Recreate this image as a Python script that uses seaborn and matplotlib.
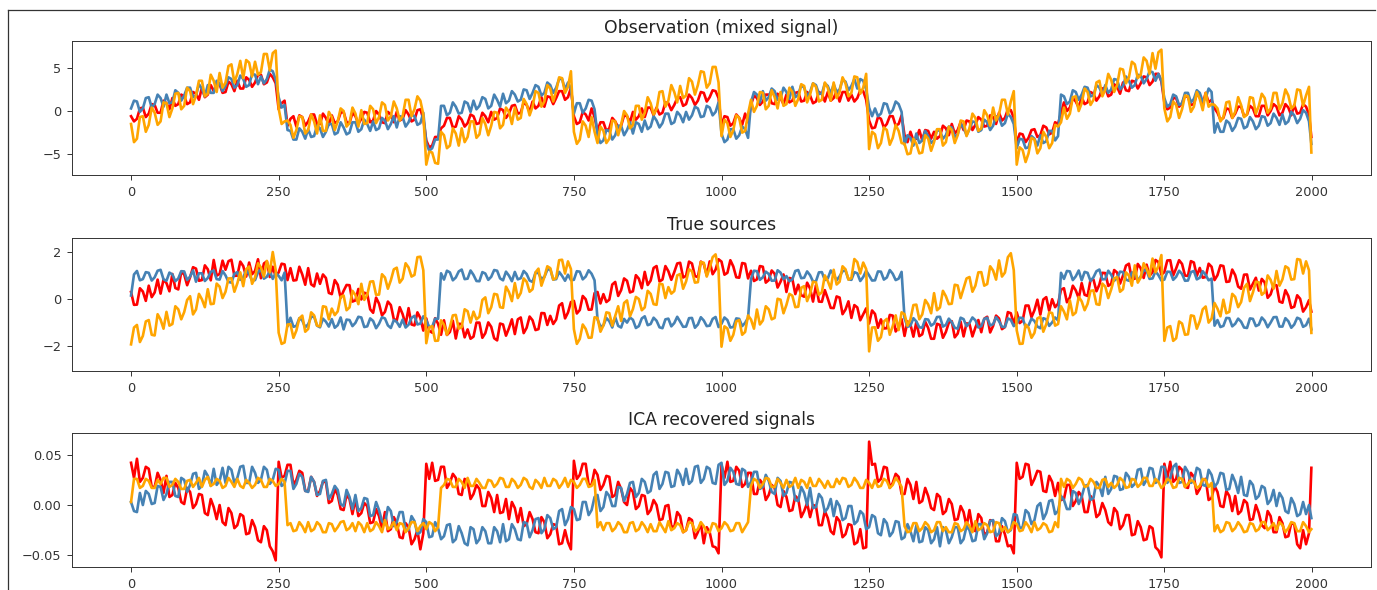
import numpy as np
import matplotlib
matplotlib.use("Agg")
import matplotlib.pyplot as plt
from matplotlib.lines import Line2D
import seaborn as sns

# sample index of every plotted point (every 5th sample plus the last one)
sample_idx = np.append(np.arange(0, 2000, 5), 1999)

panel_titles = ["Observation (mixed signal)", "True sources", "ICA recovered signals"]
line_colors = ["red", "steelblue", "orange"]
x_ticks = [0, 250, 500, 750, 1000, 1250, 1500, 1750, 2000]

# ---- Observation (mixed signal) ----
obs_red = [
    -0.6,-1.2, -0.9,0.3, 0.4,-0.7, -0.3,0.8, 0.7,-0.2, -0.2,1.2, 0.9,0.2, 1.5,0.6, 0.8,1.9, 1.7,0.8, 1.0,2.2, 2.0,1.3, 2.7,1.6, 1.9,3.0, 2.3,3.0, 3.1,2.1, 2.2,3.4, 3.1,2.3, 3.5,2.6, 2.6,3.9, 3.6,2.8, 3.3,4.2, 4.2,3.1, 3.3,4.3, 3.9,3.2,
    0.2,0.9, 1.2,-1.7, -0.9,-0.6, -1.8,-0.5, -0.7,-1.7, -1.2,-0.4, -0.4,-1.5, -1.5,-0.3, -0.8,-1.6, -0.5,-1.4, -1.2,-0.2, -0.1,-1.3, -1.4,-0.2, -0.6,-1.5, -0.9,-0.1, -0.2,-1.3, -1.1,0.0, -0.4,-1.3, -1.4,-0.1, -0.4,-1.3, -0.1,-1.1, -0.9,0.1, -0.4,-1.2, -1.0,0.1, 0.2,-0.9,
    -3.4,-4.2, -4.0,-3.0, -3.0,-2.0, -1.7,-0.8, -0.8,-1.9, -1.8,-0.6, -1.0,-1.8, -1.4,-0.4, -0.6,-1.5, -1.4,-0.2, -0.6,-1.3, -0.1,-1.0, -0.8,0.3, 0.1,-0.8, -0.3,0.6, 0.7,-0.3, -0.2,1.0, 0.7,-0.1, 1.1,0.3, 0.6,1.6, 0.5,1.7, 1.6,0.8, 1.5,2.3, 2.3,1.3, 1.6,2.7,
    -0.6,-1.5, -1.3,-0.1, -0.4,-1.1, 0.3,-0.7, -2.3,-1.3, -1.3,-2.3, -2.0,-0.8, -1.2,-1.9, -1.7,-0.5, -0.6,-1.3, -0.1,-1.0, -0.6,0.3, -0.7,0.4, 0.4,-0.5, 0.4,-0.4, -0.2,1.0, 0.9,0.1, 0.7,1.5, 1.6,0.6, 0.8,1.9, 1.5,0.7, 1.2,2.2, 2.1,1.1, 1.6,2.4, 2.3,1.5,
    -1.7,-0.6, -0.7,-1.7, -1.4,-0.4, -0.8,-1.6, -0.3,-1.3, 0.7,1.8, 1.5,0.7, 1.1,1.9, 1.9,0.9, 0.8,2.0, 1.5,0.8, 1.9,1.0, 1.2,2.1, 2.2,1.1, 1.2,2.2, 1.8,0.9, 1.1,2.2, 2.0,1.1, 2.2,1.2, 1.5,2.3, 1.1,2.2, 2.2,1.2, 1.9,1.1, 1.5,2.4, 2.3,1.3,
    -1.1,-2.0, -1.9,-0.7, -0.9,-1.9, -1.5,-0.6, -0.6,-1.7, -1.5,-0.5, -2.8,-3.6, -2.4,-3.4, -3.2,-2.2, -3.4,-2.2, -2.3,-3.2, -2.4,-3.2, -2.9,-1.7, -2.0,-2.8, -1.5,-2.6, -2.2,-1.3, -2.2,-1.1, -1.2,-2.2, -1.6,-0.7, -1.0,-1.8, -1.7,-0.5, -0.7,-1.5, -0.2,-1.1, -0.8,0.2, 0.1,-0.8,
    -3.8,-2.6, -2.7,-3.6, -3.1,-2.2, -2.1,-3.0, -2.8,-1.7, -1.9,-2.7, -2.5,-1.3, -1.5,-0.2, 1.0,0.0, 0.4,1.5, 1.1,0.4, 1.6,0.8, 1.0,2.2, 2.0,1.2, 1.7,2.6, 2.7,1.7, 1.9,3.1, 2.8,2.0, 3.3,2.4, 2.3,3.5, 3.4,2.6, 3.2,4.0, 3.9,3.0, 3.4,4.3, 4.3,3.4,
    1.0,0.2, 0.4,1.5, 1.5,0.5, 0.9,1.8, 1.6,0.7, 0.8,2.0, 1.6,0.8, 2.1,1.0, 1.3,0.3, -0.2,-1.0, -0.8,0.3, 0.2,-0.8, -0.3,0.5, 0.5,-0.6, -0.4,0.6, 0.3,-0.6, -0.6,0.6, 0.6,-0.5, 0.0,0.8, 0.5,-0.5, -0.2,0.8, 0.4,-0.5, 0.7,-0.3, -0.2,0.8, 0.5,-0.4, -3.0,
]
obs_blue = [
    0.3,1.2, 1.1,-0.1, 0.3,1.5, 1.6,0.4, 0.8,1.9, 1.5,0.5, 1.9,0.9, 1.0,2.4, 2.1,1.2, 1.8,2.7, 2.7,1.6, 1.8,3.1, 2.6,1.7, 3.0,2.1, 2.1,3.5, 3.2,2.3, 2.9,3.9, 3.7,2.7, 3.0,4.1, 3.7,2.8, 3.0,4.3, 4.2,3.1, 4.0,3.2, 3.7,4.8, 4.6,3.6,
    1.6,0.4, 0.7,-2.2, -2.3,-3.3, -3.3,-2.0, -2.4,-3.2, -2.1,-3.0, -2.9,-1.7, -2.0,-3.0, -2.4,-1.5, -1.5,-2.7, -2.5,-1.3, -1.9,-2.7, -2.5,-1.3, -1.3,-2.4, -2.1,-1.0, -1.5,-2.3, -1.2,-2.2, -2.0,-0.8, -1.1,-2.1, -1.5,-0.6, -1.9,-0.6, -0.7,-1.8, -1.3,-0.4, -0.6,-1.6, -1.4,-0.2,
    -3.7,-4.6, -4.3,-3.3, -3.3,0.6, 0.6,-0.5, -0.2,1.0, 0.5,-0.3, -0.2,1.1, 0.9,-0.1, 1.2,0.2, 0.6,1.6, 1.4,0.3, 0.6,1.9, 1.3,0.5, 2.0,0.9, 1.2,2.3, 1.9,1.1, 1.3,2.5, 2.4,1.4, 2.1,3.0, 2.8,1.8, 2.1,3.3, 3.0,2.1, 2.7,3.7, 3.7,2.5, 3.3,2.6,
    -0.3,0.9, 0.9,-0.2, 0.3,1.3, 1.2,0.2, -2.8,-3.7, -3.4,-2.2, -2.3,-3.3, -2.8,-1.7, -1.7,-2.8, -2.2,-1.3, -2.6,-1.3, -1.5,-2.4, -1.1,-2.1, -1.8,-0.6, -1.1,-1.9, -1.4,-0.3, -0.3,-1.5, -1.3,-0.1, -0.5,-1.3, -0.1,-1.0, -0.5,0.5, 0.3,-0.7, -0.6,0.6, 0.4,-0.5, -0.1,1.0,
    -2.6,-3.6, -3.3,-2.1, -2.1,-3.2, -2.8,-1.8, -2.1,-3.1, 1.0,2.2, 1.9,1.0, 2.3,1.2, 1.6,2.6, 2.3,1.3, 1.5,2.7, 2.2,1.4, 2.8,1.6, 1.9,3.0, 2.7,1.7, 2.2,3.2, 3.0,2.0, 2.0,3.2, 2.9,2.0, 3.1,2.2, 2.5,3.6, 3.4,2.4, 2.9,3.7, 2.6,3.7, 3.5,2.5,
    0.4,-0.6, 0.3,-0.6, -0.3,0.9, 0.8,-0.3, 0.1,1.1, 0.8,-0.1, -3.9,-2.8, -3.1,-4.0, -2.6,-3.7, -3.4,-2.3, -2.9,-3.7, -3.4,-2.2, -2.3,-3.2, -2.8,-1.8, -1.9,-3.0, -2.7,-1.5, -1.9,-2.8, -2.1,-1.2, -1.3,-2.4, -2.2,-1.0, -1.3,-2.2, -1.7,-0.6, -0.7,-1.7, -1.4,-0.3, -0.7,-1.5,
    -4.3,-3.2, -3.3,-4.3, -4.2,-2.9, -3.2,-4.0, -2.8,-3.7, -3.5,-2.3, -2.3,-3.4, -2.9,1.9, 1.7,0.8, 1.1,2.4, 2.2,1.3, 1.9,2.8, 2.7,1.7, 1.8,3.0, 2.7,1.9, 3.0,2.1, 2.5,3.7, 3.6,2.5, 2.9,4.0, 3.5,2.7, 3.0,4.2, 4.1,3.2, 3.7,4.6, 4.5,3.5, 4.3,3.5,
    1.5,0.5, 0.8,1.9, 1.7,0.7, 0.9,2.1, 2.1,1.0, 1.4,2.4, 2.1,1.1, 1.5,2.6, 2.2,-2.5, -1.4,-2.4, -2.4,-1.1, -1.4,-2.3, -1.8,-0.8, -0.9,-2.0, -1.8,-0.7, -1.2,-2.1, -1.7,-0.6, -0.7,-1.7, -1.4,-0.3, -0.8,-1.6, -0.4,-1.5, -1.2,-0.1, -0.5,-1.4, -0.9,0.1, -0.2,-1.2, -3.8,
]
obs_orange = [
    -1.5,-3.6, -3.2,-0.7, -0.6,-2.4, -1.6,0.4, -0.2,-1.6, -1.2,1.0, 0.9,-0.7, 0.3,2.0, 2.1,0.2, 0.6,2.7, 2.3,0.8, 1.8,3.5, 3.5,1.7, 2.0,4.2, 3.5,2.2, 4.4,2.7, 3.3,5.2, 5.4,3.3, 4.3,5.8, 3.8,5.9, 5.6,4.0, 5.7,4.2, 4.5,6.6, 6.6,4.7, 6.7,7.0,
    0.3,-1.5, -1.2,-1.1, -1.6,-3.1, -2.2,-0.6, -0.7,-2.6, -2.2,-0.4, -1.2,-2.6, -0.5,-2.3, -2.3,-0.1, -0.7,-2.2, -1.2,0.3, 0.0,-1.8, -1.4,0.4, -0.3,-1.8, 0.1,-1.5, -1.4,0.6, 0.2,-1.4, -0.7,1.0, 0.7,-1.1, -0.6,1.1, 0.3,-1.1, -0.6,1.3, 1.3,-0.6, 0.2,1.7, 1.2,-0.4,
    -6.2,-4.7, -4.8,-6.0, -6.1,-2.4, -2.8,-4.3, -4.0,-2.0, -2.6,-4.0, -2.0,-3.6, -3.0,-1.2, -1.2,-3.1, -2.7,-0.8, -1.5,-2.8, -1.7,-0.1, -0.2,-2.0, -1.6,0.4, -0.1,-1.5, 0.4,-1.0, -0.8,1.4, 0.8,-0.5, 0.5,2.3, 2.1,0.5, 1.1,3.0, 2.6,1.1, 2.3,3.9, 3.8,2.1, 2.8,4.6,
    -2.4,-3.8, -3.3,-1.2, -1.7,-3.0, -0.7,-2.4, -3.7,-1.8, -2.3,-3.7, -3.2,-1.1, -1.2,-2.8, -1.6,0.0, -0.5,-2.0, -1.6,0.6, 0.6,-1.0, -0.2,1.6, 0.9,-0.4, 0.2,2.2, 2.3,0.5, 1.2,3.0, 2.2,1.0, 2.9,1.5, 1.8,3.8, 3.4,1.9, 3.0,4.6, 4.5,2.7, 3.2,5.1, 5.1,3.3,
    -2.9,-1.0, -1.4,-3.0, -2.2,-0.5, -0.8,-2.5, -2.3,-0.3, 1.3,-0.1, 0.6,2.2, 2.1,0.2, 0.6,2.4, 1.6,0.3, 2.2,0.6, 0.8,2.7, 2.2,0.6, 1.4,3.1, 2.9,1.0, 1.9,3.2, 2.8,1.1, 1.3,3.3, 2.7,1.2, 3.3,1.5, 2.2,3.9, 3.2,1.7, 2.1,4.0, 3.9,2.0, 2.7,4.3,
    -4.4,-2.4, -2.7,-4.3, -3.7,-1.9, -2.2,-3.9, -3.1,-1.6, -2.3,-3.7, -3.8,-5.0, -4.9,-3.2, -3.8,-4.9, -4.8,-2.8, -3.2,-4.6, -3.6,-2.1, -2.1,-4.0, -3.6,-1.8, -2.2,-3.7, -2.8,-1.1, -1.2,-2.9, -2.0,-0.3, -0.8,-2.3, -2.0,0.1, -0.5,-1.7, 0.4,-1.1, -0.4,1.3, 1.3,-0.4, 1.1,2.3,
    -6.2,-4.2, -4.5,-5.9, -4.9,-3.1, -3.3,-4.9, -4.3,-2.4, -3.0,-4.3, -3.7,-1.6, -1.8,-1.3, 0.4,-0.9, -0.3,1.6, 1.7,0.0, 0.9,2.6, 2.2,0.7, 1.3,3.3, 3.5,1.7, 2.5,4.3, 3.6,2.2, 3.0,4.9, 4.8,3.2, 3.9,5.7, 5.4,3.8, 4.2,6.2, 5.8,4.3, 6.7,4.9, 6.8,7.1,
    0.3,-1.2, -0.7,1.1, 0.7,-0.8, 0.2,1.8, 1.7,-0.1, 0.5,2.2, 1.4,0.1, 2.1,0.5, 0.8,0.7, 0.3,-1.2, -0.7,1.0, 1.1,-0.8, -0.1,1.6, 0.7,-0.7, -0.4,1.6, 1.5,-0.3, 0.6,2.0, 1.5,-0.2, 0.3,2.1, 2.1,0.2, 0.9,2.5, 1.8,0.3, 0.6,2.5, 2.4,0.6, 1.8,2.8, -4.8,
]

# ---- True sources ----
src_red = [
    0.30,-0.25, -0.24,0.46, 0.32,-0.08, 0.57,0.08, 0.28,0.83, 0.23,0.83, 0.68,0.33, 1.07,0.47, 0.41,1.16, 1.05,0.59, 0.93,1.36, 1.30,0.78, 0.81,1.44, 1.27,0.80, 1.67,1.00, 1.07,1.64, 1.25,1.62, 1.68,0.99, 1.00,1.60, 1.41,0.96, 1.56,1.06, 1.20,1.70, 0.89,1.52, 1.61,0.94, 1.38,0.96,
    1.14,1.51, 1.48,0.81, 1.32,0.79, 0.81,1.38, 1.05,0.61, 1.32,0.63, 0.54,1.09, 0.65,1.05, 0.90,0.26, 0.21,0.81, 0.61,0.05, 0.35,0.60, 0.59,-0.11, -0.06,0.43, -0.02,0.27, 0.22,-0.44, -0.59,0.06, -0.20,-0.70, -0.55,-0.11, -0.26,-0.86, -0.91,-0.35, -0.65,-1.10, -0.39,-1.09, -1.13,-0.57, -0.81,-1.35,
    -0.83,-1.36, -1.44,-0.82, -1.06,-1.53, -0.91,-1.54, -1.41,-0.93, -1.69,-1.06, -1.07,-1.64, -1.30,-1.70, -1.61,-1.01, -1.01,-1.66, -1.46,-1.00, -1.19,-1.68, -1.77,-1.05, -1.09,-1.57, -1.25,-0.87, -1.50,-0.87, -0.79,-1.46, -1.23,-0.75, -0.91,-1.33, -1.29,-0.60, -0.61,-1.11, -0.72,-1.07, -0.88,-0.28, -0.18,-0.83, -0.58,-0.13,
    -0.08,-0.62, -0.47,0.13, -0.01,-0.46, -0.45,0.25, 0.30,-0.19, 0.21,-0.13, -0.03,0.62, 0.73,0.13, 0.38,0.88, 0.78,0.28, 0.33,1.02, 0.87,0.46, 1.16,0.60, 0.79,1.33, 1.41,0.75, 0.83,1.41, 1.19,0.82, 1.15,1.52, 1.55,0.92, 0.99,1.60, 1.52,0.98, 0.94,1.60, 1.50,1.01, 1.61,1.06, 1.26,1.70,
    1.60,1.04, 1.12,1.66, 1.39,0.93, 0.91,1.54, 1.51,0.88, 1.21,0.77, 0.84,1.41, 1.38,0.70, 0.81,1.22, 1.08,0.49, 0.74,1.05, 0.30,0.90, 0.86,0.21, 0.61,0.16, 0.10,0.70, 0.45,-0.11, 0.59,-0.11, -0.12,0.38, 0.02,-0.38, -0.39,0.11, 0.06,-0.65, -0.45,-0.10, -0.81,-0.26, -0.36,-0.91, -0.65,-0.40,
    -1.05,-0.49, -0.64,-1.23, -0.87,-1.26, -1.25,-0.68, -0.71,-1.39, -1.22,-0.86, -1.58,-0.96, -1.09,-1.61, -0.98,-1.59, -1.51,-0.97, -1.24,-1.70, -1.70,-1.06, -1.11,-1.66, -1.41,-1.01, -0.95,-1.64, -1.48,-0.97, -1.60,-1.04, -1.07,-1.60, -1.22,-0.90, -1.42,-0.84, -0.76,-1.43, -1.15,-0.71, -0.83,-1.29, -1.20,-0.56, -0.61,-1.07,
    -0.57,-1.03, -0.93,-0.28, -0.28,-0.78, -0.48,-0.03, -0.67,-0.02, 0.08,-0.51, -0.01,-0.35, -0.20,0.40, 0.46,-0.14, 0.07,0.57, 0.37,0.03, 0.68,0.18, 0.13,0.83, 0.83,0.33, 0.62,1.12, 1.11,0.56, 0.65,1.24, 1.13,0.66, 1.00,1.43, 1.51,0.84, 0.87,1.50, 1.32,0.90, 1.47,0.99, 1.15,1.67, 1.58,1.04,
    1.15,1.65, 1.66,1.01, 1.31,1.66, 1.50,1.00, 0.99,1.62, 1.56,0.99, 1.33,0.91, 0.94,1.51, 1.38,0.81, 1.02,1.44, 1.41,0.73, 0.75,1.26, 1.02,0.53, 0.44,1.04, 1.05,0.40, 0.65,0.91, 0.36,0.86, 0.71,0.05, 0.20,0.60, 0.59,-0.11, -0.16,0.38, 0.13,-0.38, -0.33,0.16, 0.01,-0.54, -0.35,-0.05, -0.54,
]
src_blue = [
    0.15,1.05, 1.20,0.80, 0.85,1.15, 1.12,0.79, 0.93,1.21, 1.25,0.84, 0.78,1.13, 1.05,0.76, 0.88,1.19, 1.18,0.81, 0.96,1.23, 0.74,1.10, 1.10,0.77, 0.90,1.16, 1.22,0.85, 0.83,1.20, 1.01,0.73, 0.70,1.08, 1.15,0.82, 0.92,1.24, 1.06,0.79, 0.81,1.14, 1.27,0.87, 0.95,1.19, 0.86,1.11,
    0.99,0.80, 1.13,-1.17, -0.80,-1.19, -1.15,-0.82, -0.92,-1.21, -1.08,-0.77, -0.75,-1.14, -1.21,-0.84, -0.97,-1.18, -0.86,-1.23, -1.12,-0.79, -1.30,-0.88, -0.90,-1.16, -1.02,-0.76, -0.79,-1.20, -1.17,-0.83, -0.94,-1.25, -1.06,-0.78, -0.83,-1.13, -1.24,-0.90, -0.98,-1.19, -0.88,-1.22, -1.10,-0.81, -0.72,-1.09, -1.05,-0.74,
    -0.91,-1.20, -1.19,-0.84, -0.85,1.10, 0.83,1.21, 1.14,0.80, 0.92,1.18, 1.26,0.85, 0.87,1.22, 1.03,0.77, 0.76,1.15, 1.09,0.82, 0.95,1.24, 1.21,0.88, 0.80,1.17, 1.00,0.76, 1.16,0.84, 0.89,1.20, 1.07,0.79, 0.73,1.13, 1.11,0.86, 0.94,1.25, 1.28,0.83, 0.85,1.16, 0.99,0.78, 1.04,0.81,
    0.82,1.19, 1.17,0.84, 0.96,1.23, 1.08,0.80, -0.87,-1.18, -1.13,-0.81, -0.95,-1.22, -0.78,-1.15, -1.22,-0.85, -1.01,-0.79, -0.89,-1.24, -1.16,-0.83, -0.74,-1.12, -1.07,-0.80, -0.93,-1.21, -1.25,-0.87, -0.84,-1.17, -1.03,-0.76, -0.97,-1.19, -1.18,-0.82, -0.81,-1.23, -1.09,-0.78, -0.92,-1.16, -1.14,-0.85, -0.77,-1.20,
    -1.06,-0.79, -0.90,-1.22, -1.20,-0.83, -0.85,-1.16, -1.02,-0.80, 0.86,1.21, 1.19,0.82, 0.93,1.17, 1.07,0.78, 0.79,1.23, 1.13,0.85, 0.98,0.76, 0.84,1.20, 1.24,0.89, 0.91,1.18, 1.02,0.75, 0.76,1.14, 1.15,0.81, 0.88,1.22, 1.05,0.80, 0.97,1.19, 1.22,0.84, 0.82,1.15, 1.10,0.77, 0.94,1.21,
    1.01,0.79, 0.80,1.18, 1.17,0.83, 0.92,1.24, 1.08,0.81, 0.87,1.16, -0.83,-1.19, -1.14,-0.82, -0.96,-1.21, -1.23,-0.86, -0.88,-1.14, -1.05,-0.77, -0.76,-1.18, -1.11,-0.84, -0.99,-1.23, -1.27,-0.80, -0.86,-1.17, -1.02,-0.79, -0.91,-1.22, -1.16,-0.85, -0.80,-1.13, -1.08,-0.78, -0.95,-1.19, -1.20,-0.83, -0.89,-1.16,
    -1.04,-0.80, -0.81,-1.21, -1.13,-0.84, -0.94,-1.18, -1.25,-0.82, -0.87,-1.15, -1.00,-0.79, -0.92,1.12, 0.86,1.20, 1.18,0.81, 0.97,1.22, 0.80,1.16, 1.12,0.77, 0.93,1.19, 1.26,0.84, 0.85,1.21, 1.04,0.78, 0.90,1.17, 1.15,0.83, 0.78,1.14, 1.09,0.80, 0.96,1.23, 1.21,0.86, 0.88,1.18, 1.02,0.79,
    0.83,1.17, 1.16,0.82, 0.95,1.21, 1.07,0.78, 0.79,1.15, 1.20,0.84, 0.91,1.19, 1.03,0.80, 0.87,-1.14, -0.90,-1.20, -1.15,-0.81, -0.82,-1.17, -1.06,-0.84, -0.97,-1.22, -1.24,-0.83, -0.85,-1.16, -1.10,-0.79, -0.93,-1.21, -1.01,-0.78, -0.77,-1.18, -1.18,-0.82, -0.95,-1.23, -1.09,-0.80, -0.86,-1.19, -1.12,-0.84, -1.30,
]
src_orange = [
    -1.94,-1.22, -1.11,-1.84, -1.58,-0.96, -0.90,-1.53, -1.56,-0.65, -0.88,-1.27, -0.55,-1.14, -1.07,-0.31, -0.44,-0.87, -0.56,-0.04, 0.12,-0.66, -0.45,0.22, -0.01,-0.35, 0.42,-0.22, -0.20,0.66, 0.53,0.04, 0.31,0.88, 0.89,0.31, 0.67,1.14, 0.55,1.27, 1.39,0.65, 0.92,1.53, 1.35,0.96, 1.63,1.14, 2.01,1.23,
    -1.44,-1.92, -1.86,-1.09, -1.08,-1.66, -1.35,-0.83, -0.71,-1.40, -1.28,-0.57, -0.70,-1.14, -1.17,-0.31, -0.34,-0.87, -0.41,-0.69, -0.53,0.09, 0.15,-0.48, -0.36,0.35, 0.17,-0.22, 0.65,-0.04, 0.18,0.74, 0.76,0.18, 0.19,1.06, 0.92,0.44, 0.80,1.27, 1.34,0.70, 0.87,1.53, 1.35,0.96, 1.03,1.79, 1.81,1.23,
    -1.89,-1.22, -1.16,-1.79, -1.78,-0.91, -1.10,-1.53, -1.21,-0.70, -0.68,-1.27, -1.20,-0.44, -0.52,-1.01, -0.54,-0.87, -0.76,-0.04, 0.07,-0.61, -0.35,0.22, 0.19,-0.35, -0.38,0.53, 0.30,-0.09, 0.68,0.04, 0.26,0.88, 0.74,0.31, 0.42,1.14, 1.30,0.57, 0.94,1.40, 1.32,0.83, 0.90,1.66, 1.68,1.09, 1.61,1.28,
    -1.29,-1.92, -1.71,-1.09, -1.28,-1.66, -1.65,-0.78, -0.81,-1.40, -1.13,-0.57, -0.60,-1.14, -0.72,-0.31, -0.94,-0.17, -0.06,-0.74, -0.43,0.09, 0.00,-0.48, -0.36,0.35, 0.22,-0.22, -0.25,0.66, 0.63,0.04, 0.51,0.23, 0.34,1.01, 1.07,0.44, 0.75,1.27, 1.19,0.70, 0.72,1.58, 1.55,0.96, 1.33,1.79, 1.91,1.23,
    -2.04,-1.17, -1.26,-1.79, -1.53,-0.96, -0.90,-1.53, -1.41,-0.70, -0.88,-1.27, -0.45,-1.09, -0.92,-0.31, -0.44,-0.87, -0.81,0.01, -0.03,-0.61, -0.25,0.22, 0.14,-0.35, -0.33,0.48, 0.55,-0.09, 0.23,0.74, 0.71,0.18, 0.29,1.01, 0.77,0.44, 1.25,0.62, 0.74,1.40, 1.27,0.83, 0.90,1.71, 1.58,1.09, 1.56,1.28,
    -2.24,-1.22, -1.21,-1.79, -1.63,-0.96, -0.85,-1.53, -1.16,-0.70, -1.33,-0.57, -0.65,-1.14, -0.87,-0.26, -0.24,-0.87, -0.66,-0.04, -0.23,-0.61, 0.25,-0.48, -0.36,0.35, 0.12,-0.22, -0.20,0.61, 0.58,0.04, 0.46,0.88, 0.94,0.31, 0.57,1.14, 1.15,0.57, 0.64,1.40, 1.22,0.83, 1.65,0.96, 1.13,1.79, 1.96,1.23,
    -1.34,-1.92, -1.91,-1.09, -1.23,-1.66, -1.45,-0.83, -0.76,-1.40, -1.08,-0.57, -0.60,-1.14, -1.07,-0.31, -0.54,-0.87, -0.06,-0.69, -0.58,0.09, -0.10,-0.48, -0.21,0.35, 0.37,-0.22, -0.25,0.66, 0.53,0.04, 0.41,0.88, 0.94,0.31, 0.42,1.14, 1.00,0.57, 1.44,0.70, 0.92,1.53, 1.30,0.96, 1.73,1.14, 1.41,1.88,
    -1.79,-1.22, -1.16,-1.79, -1.68,-0.96, -1.05,-1.53, -1.51,-0.70, -0.73,-1.27, -0.95,-0.44, -0.32,-1.01, -0.84,-0.17, -0.41,-0.74, -0.03,-0.61, -0.55,0.22, 0.09,-0.35, -0.13,0.48, 0.65,-0.09, 0.28,0.74, 0.71,0.18, 0.29,1.01, 0.82,0.44, 1.20,0.57, 0.84,1.40, 1.32,0.83, 0.85,1.71, 1.68,1.09, 1.61,1.23, -1.45,
]

# ---- ICA recovered signals (values in thousandths) ----
ica_red_milli = [
    42,27, 46,23, 27,38, 36,18, 18,32, 25,12, 29,8, 10,22, 17,3, 1,17, 13,-3, 1,11, 10,-8, -10,6, -2,-14, 0,-17, -20,-3, -8,-23, -20,-9, -11,-29, -28,-15, -22,-35, -37,-21, -25,-41, -46,-55,
    43,27, 29,40, 40,20, 25,34, 32,14, 14,28, 23,9, 14,23, 23,2, 4,16, 10,-4, -5,10, 6,-9, 6,-11, -8,2, -1,-18, -17,-4, -11,-24, -7,-26, -24,-12, -18,-32, -33,-18, -22,-39, -34,-25, -44,-28,
    41,26, 42,24, 25,38, 38,17, 22,31, 27,11, 10,26, 23,6, 11,20, 16,-1, -1,13, 7,-7, 10,-8, -7,6, -14,3, -3,-17, -3,-21, -19,-7, -14,-27, -28,-12, -17,-33, -29,-19, -20,-39, -38,-25, -37,-44,
    44,26, 30,41, 41,20, 20,35, 30,15, 20,29, 28,8, 10,23, 16,3, 0,17, 13,-4, -1,10, 9,-9, -5,5, 0,-15, -14,-1, 0,-21, -22,-7, -11,-27, -25,-13, -15,-33, -27,-18, -38,-22, -27,-41, -42,-48,
    40,27, 43,23, 24,38, 34,18, 21,32, 32,11, 11,25, 21,5, 10,20, 17,0, -2,14, 8,-6, -5,9, 6,-12, -6,2, -12,0, -1,-20, -20,-6, -13,-26, -29,-12, -16,-32, -29,-19, -20,-39, -37,-24, -43,-42,
    63,40, 41,23, 26,38, 37,17, 22,31, 28,11, 11,26, 20,6, 23,2, 4,17, 9,-3, -5,11, 8,-9, -6,6, 1,-15, -14,-1, -7,-21, -5,-23, -26,-9, -13,-30, -27,-15, -16,-36, -36,-21, -29,-41, -40,-48,
    42,26, 28,41, 40,20, 26,34, 33,14, 13,29, 23,9, 22,5, 6,20, 20,-1, 4,13, 9,-7, -7,9, 5,-12, -9,2, -5,-17, -20,-3, -7,-24, -20,-10, -10,-30, -29,-16, -22,-35, -34,-21, -23,-42, -45,-52,
    41,27, 43,23, 26,38, 35,18, 17,32, 28,11, 16,25, 26,5, 7,19, 13,-1, -2,14, 9,-6, 9,-9, -6,5, 2,-15, -14,0, -8,-20, -23,-6, -11,-27, -27,-12, -18,-32, -31,-18, -19,-39, -43,-25, -39,-28, 37,
]
ica_blue_milli = [
    3,-6, -7,12, 0,14, 11,1, 2,19, 18,5, 11,23, 23,9, 8,27, 25,13, 20,31, 32,16, 19,34, 29,19, 36,20, 24,37, 22,38, 35,22, 27,38, 39,22, 22,38, 32,22, 25,38, 35,21, 25,36,
    35,19, 21,34, 34,16, 21,31, 28,14, 13,28, 23,10, 11,24, 25,6, 11,19, 15,1, -1,15, 8,-4, 10,-6, -3,7, 6,-11, -10,3, -5,-16, -19,-2, -6,-21, -17,-7, -7,-25, -25,-11, -16,-29, -27,-14,
    -17,-32, -31,-17, -23,-34, -31,-20, -19,-37, -34,-21, -28,-38, -40,-22, -24,-38, -34,-22, -26,-38, -38,-22, -26,-37, -19,-36, -34,-19, -24,-34, -35,-17, -18,-32, -25,-14, -13,-28, -24,-10, -13,-24, -22,-6, -4,-20, -14,-2,
    -4,-15, -14,3, 3,-10, -5,8, 10,-6, -2,13, 9,-1, -1,18, 17,4, 11,22, 23,8, 12,26, 23,12, 14,30, 33,16, 21,33, 32,18, 19,35, 30,20, 36,21, 24,38, 39,22, 26,38, 36,22, 21,40,
    42,20, 24,37, 33,21, 20,36, 34,18, 23,33, 33,16, 18,30, 24,13, 11,27, 24,9, 12,23, 22,5, 4,18, 12,0, 17,-3, -2,11, 7,-7, -3,6, -11,4, -1,-15, -13,-1, -1,-19, -16,-6, -9,-24,
    -22,-10, -12,-28, -30,-14, -18,-31, -27,-16, -17,-34, -32,-19, -26,-36, -20,-37, -36,-22, -25,-38, -34,-22, -41,-22, -25,-38, -32,-22, -22,-38, -34,-21, -25,-36, -35,-19, -19,-34, -28,-16, -15,-31, -28,-13, -16,-27, -25,-9,
    -10,-23, -22,-5, -8,-19, -15,-1, 2,-14, -8,4, 5,-9, -6,9, 5,-4, -4,14, 12,1, 8,19, 20,5, 7,23, 19,9, 28,11, 16,29, 28,15, 16,32, 28,18, 21,35, 36,20, 25,37, 36,22, 24,38,
    38,22, 27,38, 41,22, 23,38, 33,22, 24,37, 35,20, 19,35, 30,18, 22,32, 31,15, 16,30, 23,12, 28,10, 9,24, 20,6, 9,19, 17,1, 5,15, -1,12, 7,-6, -8,7, 1,-11, -9,3, -9,0, -13,
]
ica_orange_milli = [
    3,26, 26,17, 19,26, 24,17, 17,25, 21,27, 27,18, 20,26, 23,16, 16,24, 25,18, 22,27, 18,25, 28,19, 21,26, 24,17, 19,27, 23,18, 26,19, 17,25, 22,17, 20,27, 25,18, 18,26, 24,19,
    21,26, 23,-20, -18,-26, -25,-17, -21,-27, -17,-26, -24,-17, -20,-27, -27,-18, -19,-26, -22,-17, -16,-25, -23,-18, -26,-17, -20,-27, -18,-26, -24,-17, -21,-27, -15,-24, -22,-17, -25,-18, -19,-27, -23,-17, -17,-26, -21,-18,
    -24,-17, -19,-26, -22,17, 20,26, 25,18, 18,26, 23,17, 27,19, 19,26, 22,17, 17,25, 24,18, 21,27, 26,18, 18,26, 23,17, 20,27, 25,18, 16,25, 22,17, 27,19, 19,26, 24,17, 21,27, 18,25,
    23,17, 20,26, 26,18, 19,25, -22,-17, -25,-18, -18,-26, -23,-17, -20,-27, -27,-18, -17,-26, -24,-17, -21,-27, -19,-26, -26,-17, -22,-27, -16,-25, -23,-18, -20,-27, -25,-17, -18,-26, -24,-17, -21,-27, -27,-18, -19,-26,
    -23,-17, -20,-26, -25,-18, -18,-27, -22,-17, 19,26, 24,17, 21,27, 26,18, 18,26, 22,17, 25,18, 20,27, 17,25, 23,17, 27,19, 19,26, 22,17, 24,18, 18,26, 21,27, 26,18, 20,27, 23,17, 17,25,
    22,17, 25,18, 19,26, 24,17, 20,27, 23,18, -21,-27, -26,-18, -18,-26, -23,-17, -20,-27, -25,-17, -17,-26, -22,-27, -27,-18, -19,-26, -24,-17, -21,-27, -16,-25, -23,-18, -20,-27, -26,-17, -18,-26, -22,-27, -24,-17,
    -19,-26, -25,-17, -21,-27, -17,-25, -23,-18, -20,-27, -26,-17, -22,26, 18,26, 24,17, 21,27, 25,18, 19,26, 23,17, 17,25, 26,18, 22,17, 20,27, 24,17, 18,26, 25,18, 21,27, 27,19, 19,26, 23,17,
    20,26, 24,17, 18,27, 26,18, 21,25, 23,17, 19,26, 25,18, 22,-26, -20,-27, -25,-17, -18,-26, -23,-17, -21,-27, -26,-18, -19,-26, -24,-17, -17,-25, -22,-18, -25,-17, -20,-27, -23,-17, -18,-26, -26,-17, -21,-27, -24,
]

named = {"obs_red": obs_red, "obs_blue": obs_blue, "obs_orange": obs_orange,
         "src_red": src_red, "src_blue": src_blue, "src_orange": src_orange,
         "ica_red": ica_red_milli, "ica_blue": ica_blue_milli,
         "ica_orange": ica_orange_milli}
for name, arr in named.items():
    if len(arr) != len(sample_idx):
        raise ValueError(f"{name}: {len(arr)} values, expected {len(sample_idx)}")

panel_series = [
    [obs_red, obs_blue, obs_orange],
    [src_red, src_blue, src_orange],
    [np.array(ica_red_milli) / 1000.0, np.array(ica_blue_milli) / 1000.0,
     np.array(ica_orange_milli) / 1000.0],
]
panel_ylims = [(-7.4, 8.1), (-3.08, 2.61), (-0.0616, 0.0716)]
panel_yticks = [[-5, 0, 5], [-2, 0, 2], [-0.05, 0.0, 0.05]]

W, H = 1377, 590
fig = plt.figure(figsize=(W / 100, H / 100), dpi=100)
fig.patch.set_facecolor("white")

# axes boxes in pixels: (left, top, right, bottom)
boxes = [(72, 41, 1371, 175), (72, 238, 1371, 371), (72, 433, 1371, 567)]

for box, title, series, ylim, yt in zip(boxes, panel_titles, panel_series,
                                        panel_ylims, panel_yticks):
    l, t, r, b = box
    ax = fig.add_axes([l / W, 1 - b / H, (r - l) / W, (b - t) / H])
    for y, c in zip(series, line_colors):
        sns.lineplot(x=sample_idx, y=np.asarray(y, dtype=float), ax=ax, color=c,
                     linewidth=1.9, estimator=None, legend=False)
    ax.set_title(title, fontsize=12.4, pad=6.0, color="#222222")
    ax.set_xlim(-100, 2100)
    ax.set_ylim(*ylim)
    ax.set_xticks(x_ticks)
    ax.set_yticks(yt)
    ax.set_xlabel("")
    ax.set_ylabel("")
    ax.tick_params(labelsize=9.3, length=3.6, width=0.7, pad=4.0,
                   colors="#333333", labelcolor="#333333")
    for sp in ax.spines.values():
        sp.set_linewidth(0.7)
        sp.set_color("#333333")

# notebook cell frame
fig.add_artist(Line2D([7.5 / W, 1375 / W], [1 - 9.5 / H, 1 - 9.5 / H],
                      transform=fig.transFigure, color="#333333", lw=0.9))
fig.add_artist(Line2D([7.5 / W, 7.5 / W], [0, 1 - 9.5 / H],
                      transform=fig.transFigure, color="#333333", lw=0.9))

fig.savefig("out.png", dpi=100, facecolor="white")
